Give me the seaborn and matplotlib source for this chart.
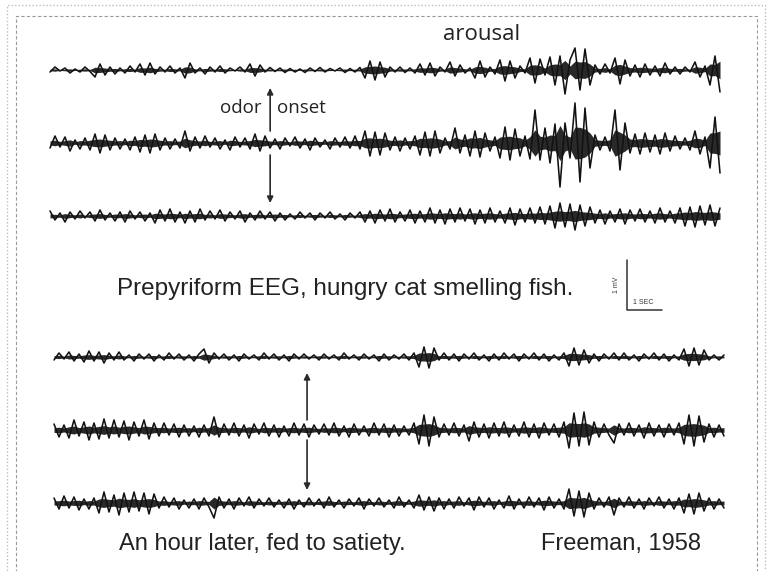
import numpy as np
import pandas as pd
import matplotlib
matplotlib.use("Agg")
import matplotlib.pyplot as plt
import seaborn as sns
from matplotlib.patches import Rectangle

# ---------------- data (EEG samples in microvolts) ----------------
# hungry cat, three channels, odor onset at ~6.3 s
hungry_1 = [40,-60,20,-40,60,-20,40,-60,30, 140,-120,100, -60,80,-40,60,-80,40, -120,100,-140,80,
            -60,40,-80,60,-40, 160,-140, 60,-40,80,-60,40,-80,60,-40,20,-60,40, -120,120,-100,
            40,-50,30,-40,50,-30,40,-20,50,-40,30,-50,40,-30,20,-40,50,-30,40,-50,
            160,-180,200,-160,140, -60,40,-60,50,-40,60, -120,100,-140,120, -60,40, -160,120,-100,
            60,-40, 160,-180,140, -60,80, -200,220,-180,160, -80,60, -240,260,-220, 100,
            -260,300,-280,480, -200, -440,400,-420, 300, -100,80,-120,60, -240,280,-200,
            120,-100,140,-120,100,-80,120,-140,80,-60, 80,-60,40, -160,140, -80, 300,-280,440]
hungry_2 = [100,-140,80,-120,160,-60,120,-100,140, -180,200,-160,140, -100,120,-80,140,-120,
            180,-160,200,-180,140, -100,120,-80,100, -240,160,
            -120,100,-140,80,-100,120,-60,140,-120,80,-100,120, -180,160,-140,
            100,-80,120,-100,60,-120,100,-80,140,-100,80,-60,120,-100,80,-120,100,-140,120,
            -240,260,-220,240,-200, 140,-120,160,-100,120,-140, 240,-220,260,-240,200, -100,120,
            -300,200,-160, 260,-240,280,-200,160, -120, 300,-320,340,-280,260, -140,
            320,-660,340,-300, 400,-380,880,-400, 300, -800,780,-700, 500, -160,140,-120,160,
            -660,540,-400, 200,-180,220,-200,180,-160,220,-200,160,-140, 120,-100,140,
            -240,220, -120, 500,-520,600]
hungry_3 = [-100,80,-60,120,-80,60,-100,40,-80, 100,-120,80,-60,100,-80,120,-100,60,-80,100,-60,
            140,-120,100,-140,120,-80,140,-100,120,-140,
            80,-100,60,-120,100,-80,60,-100,120,-60,80,-100,60,-80,100,
            -60,80,-40,60,-80,40,-60,80,-60,40,-80,60,-40,80,-60,40,-80,
            120,-100,140,-120,100,-140,120,-80,100,-120,140,-100,120,
            -160,140,-120,160,-140,120,-160,100,-140,160,-120,140,-160,120,-100,140,-160,180,
            -140,120,-160,140,-180,160,
            -200,240,-260,220,-240,280,-220,200,-180,
            140,-120,160,-100,120,-140,160,-120,100,-140,120,-100,140,-160,120,-100,140,
            -160,200,-180,220,-200,180,-220,200,-160]
# an hour later, fed to satiety
sated_1 = [60,-80,40,-100,80,-60,100,-120,80,-100,120,-80,60,-100,
           60,-40,80,-60,40,-60,80,-40,60,-80,40,-60,60,-40,80,-60, -160,120,-80,
           40,-60,60,-40,80,-60,40,-40,60,-80,40,-60,60,-40,80,-60,40,-60,40,-40,
           60,-60,40,-40,60,-80,40,-40,60,-60,40,-40,80,-60,60,-40,40,-60,60,-80,
           200,-200,220,-180,
           60,-80,60,-60,80,-60,40,-80,60,-40,80,-60,60,-80,40,-60,80,-60,40,-80,60,-60,80,-40,60,-80,
           180,-180,160,-140,120,
           -60,80,-60,40,-80,60,-80,60,-40,80,-60,40,-80,60,-60,80,-40,60,
           -160,180,-180,160,-140, 60,-40,60,-40]
sated_2 = [-120,140,-100,160,-200,120,-160,200,-140,180,-220,160,-200,140,-180,200,-160,120,-200,180,-140,
           120,-140,100,-120,140,-100,120,-80,140,-100,120, -260,140,
           -120,100,-140,120,-100,160,-120,80,-140,120,-100,140,-80,120,-140,100,-120,140,-100,80,
           -120,100,-140,120,-80,140,-120,100,-80,120,-140,100,-120,140,-100,120,-80,100,-140,
           280,-300,320,-260, 140,-120,100,-140,120,-100, 220,-160,
           140,-120,160,-140,120,-160,140,-100,120,-160,140,-120,160,-140,100,-120,140,-160,
           360,-340,320,-360,300, -160,140,-120,100, 260,-120,
           100,-140,120,-100,160,-140,120,-100,140,-120,100,-140,
           280,-300,320,-280,240, -120,140,-100,120]
sated_3 = [-100,120,-140,100,-120,140,-80,120,-100,
           200,-220,180,-160,240,-200,180,-220,160,-200,220,-180,
           100,-120,80,-100,120,-60,100,-80,120,-100,80, 300,-120,
           100,-80,120,-100,60,-120,100,-80,60,-100,80,-60,100,-80,120,-60,80,-100,60,-80,
           100,-120,80,-60,100,-80,60,-100,120,-80,60,-100,80,-60,100,-120,80,-60,100,
           -160,140,-120,160,
           -100,120,-80,100,-120,60,-100,140,-120,80,-100,120,-60,100,-140,120,-80,100,-120,80,
           -100,140,-120,100,-80,120,
           -280,260,-240,280,-200, 120,-100,80,-120, 240,-100,
           80,-120,100,-80,120,-100,60,-120,100,-80,120,-100,
           200,-180,220,-200,160, -100,120,-80,100]

trace_names = ["hungry 1", "hungry 2", "hungry 3", "sated 1", "sated 2", "sated 3"]
trace_values = [hungry_1, hungry_2, hungry_3, sated_1, sated_2, sated_3]
odor_onset_sec = [6.29, 7.23]          # upper / lower recording, time after trace start
scale_mv, scale_sec = 1.0, 1.0

# ---------------- layout ----------------
W, H = 769, 571
PX_PER_SEC = 35.0
PX_PER_MV = 50.0
DT = 5.0 / PX_PER_SEC
trace_origin_px = [(50, 70), (50, 143), (50, 216), (54, 357), (54, 430), (54, 503)]

sns.set_theme(style="white")
plt.rcParams["font.family"] = ["Liberation Sans", "DejaVu Sans"]

fig = plt.figure(figsize=(W / 100, H / 100), dpi=100)
fig.patch.set_facecolor("white")
ax = fig.add_axes([0, 0, 1, 1])

frames = []
for name, vals, (x0, y0) in zip(trace_names, trace_values, trace_origin_px):
    v = np.asarray(vals, dtype=float)
    t = x0 / PX_PER_SEC + np.arange(len(v)) * DT
    frames.append(pd.DataFrame({"t": t, "v": v, "base": y0 / PX_PER_MV,
                                "y": y0 / PX_PER_MV + v / 1000.0, "trace": name}))
df = pd.concat(frames, ignore_index=True)

# ink spread of the pen: a ragged band that follows each sample's amplitude
for name, g in df.groupby("trace", sort=False):
    env = g["v"].abs().to_numpy() / 1000.0
    ax.fill_between(g["t"], g["base"] - 0.4 * env, g["base"] + 0.4 * env,
                    color="#161616", alpha=0.92, lw=0)

sns.lineplot(data=df, x="t", y="y", units="trace", estimator=None, sort=False,
             color="#121212", linewidth=1.15, ax=ax, legend=False)

ax.set_xlim(0, W / PX_PER_SEC)
ax.set_ylim(H / PX_PER_MV, 0)
ax.axis("off")

def px(xp, yp):
    return xp / PX_PER_SEC, yp / PX_PER_MV

arrow_kw = dict(arrowstyle="-|>", color="#2a2a2a", lw=1.2, mutation_scale=9,
                shrinkA=0, shrinkB=0)
# upper recording arrows
xa = trace_origin_px[0][0] + odor_onset_sec[0] * PX_PER_SEC
ax.annotate("", xy=px(xa, 88), xytext=px(xa, 131), arrowprops=arrow_kw)
ax.annotate("", xy=px(xa, 203), xytext=px(xa, 155), arrowprops=arrow_kw)
# lower recording arrows
xb = trace_origin_px[3][0] + odor_onset_sec[1] * PX_PER_SEC
ax.annotate("", xy=px(xb, 373), xytext=px(xb, 420), arrowprops=arrow_kw)
ax.annotate("", xy=px(xb, 490), xytext=px(xb, 440), arrowprops=arrow_kw)

# scale bar
sx, sy = px(627, 310)
ax.plot([sx, sx, sx + scale_sec], [sy - scale_mv, sy, sy], color="#333333", lw=1.1)
ax.text(sx - 0.3, sy - 0.5, "1 mV", rotation=90, ha="center", va="center", fontsize=5, color="#333333")
ax.text(sx + 0.18, sy - 0.16, "1 SEC", ha="left", va="center", fontsize=5, color="#333333")

def ftext(xp, yp, s, **kw):
    fig.text(xp / W, 1 - yp / H, s, **kw)

ftext(482, 35, "arousal", ha="center", va="center", fontsize=16, color="#222222", family=["Open Sans", "DejaVu Sans"])
ftext(262, 108, "odor", ha="right", va="center", fontsize=13.5, color="#222222", family=["Open Sans", "DejaVu Sans"])
ftext(277, 108, "onset", ha="left", va="center", fontsize=13.5, color="#222222", family=["Open Sans", "DejaVu Sans"])
ftext(117, 289, "Prepyriform EEG, hungry cat smelling fish.", ha="left", va="center", fontsize=17.5, color="#222222")
ftext(119, 544, "An hour later, fed to satiety.", ha="left", va="center", fontsize=17, color="#222222")
ftext(541, 544, "Freeman, 1958", ha="left", va="center", fontsize=17, color="#222222")

# page frames
fig.add_artist(Rectangle((7 / W, -0.05), (765 - 7) / W, 1.05 - 5 / H, transform=fig.transFigure,
                         fill=False, ec="#bdbdbd", lw=1.0, ls=(0, (1, 1.5))))
fig.add_artist(Rectangle((16 / W, -0.05), (757 - 16) / W, 1.05 - 16 / H, transform=fig.transFigure,
                         fill=False, ec="#9a9a9a", lw=0.8, ls=(0, (3, 2))))

fig.savefig("out.png", dpi=100, facecolor="white")
